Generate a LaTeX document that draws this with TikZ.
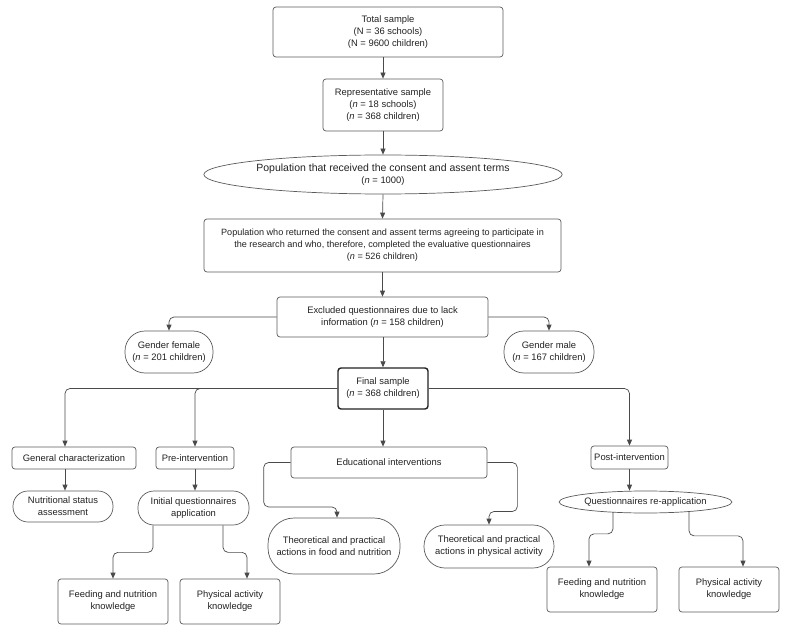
\documentclass[tikz,border=0pt]{standalone}
\usepackage{fontspec}
\setmainfont{Liberation Sans}
\usetikzlibrary{arrows.meta,shapes.geometric}
\definecolor{boxgray}{HTML}{5A5A5A}
\definecolor{linegray}{HTML}{4A4A4A}
\definecolor{textgray}{HTML}{222222}
\newcommand{\nn}{\textit{n}}

\begin{document}
\begin{tikzpicture}[x=1pt,y=-1pt,
    box/.style={draw=boxgray,line width=0.7pt,rounded corners=3pt,inner sep=0pt,align=center,
        text=textgray,font=\fontsize{9.4}{12}\selectfont},
    pill/.style={box,rounded corners=#1},
    oval/.style={box,ellipse},
    link/.style={draw=linegray,line width=0.7pt,rounded corners=5pt,-{Triangle[length=6pt,width=5pt]}}]
            \useasboundingbox (0,0) rectangle (787,631);

            \begin{scope}
                \node[box,minimum width=230pt,minimum height=50pt] (total) at (388,32) {Total sample\\(N = 36 schools)\\(N = 9600 children)};
                \node[box,minimum width=120pt,minimum height=52pt] (rep) at (383,105) {Representative sample\\(\nn{} = 18 schools)\\(\nn{} = 368 children)};
                \node[oval,minimum width=298pt,minimum height=39pt] (pop1) at (383,174.5) {{\fontsize{10.5}{12}\selectfont Population that received the consent and assent terms}\\(\nn{} = 1000)};
                \node[box,font=\fontsize{9.1}{12}\selectfont,minimum width=357pt,minimum height=53pt] (pop2) at (382.5,245.5) {Population who returned the consent and assent terms agreeing to participate in\\the research and who, therefore, completed the evaluative questionnaires\\(\nn{} = 526 children)};
                \node[box,minimum width=211pt,minimum height=40pt] (excl) at (382.5,317) {Excluded questionnaires due to lack\\information (\nn{} = 158 children)};
                \node[pill=20pt,minimum width=88pt,minimum height=42pt] (female) at (169,352) {Gender female\\(\nn{} = 201 children)};
                \node[pill=20pt,minimum width=90pt,minimum height=42pt] (male) at (549,352) {Gender male\\(\nn{} = 167 children)};
                \node[box,line width=1.4pt,draw=textgray,minimum width=90pt,minimum height=41pt] (final) at (383,388.5) {Final sample\\(\nn{} = 368 children)};

                \node[box,minimum width=124pt,minimum height=22pt] (gen) at (74,458) {General characterization};
                \node[box,minimum width=78pt,minimum height=22pt] (pre) at (195,458) {Pre-intervention};
                \node[box,minimum width=196pt,minimum height=31pt] (edu) at (389,462.5) {Educational interventions};
                \node[box,minimum width=77pt,minimum height=23pt] (post) at (629.5,457.5) {Post-intervention};

                \node[pill=15pt,minimum width=100pt,minimum height=31pt] (nutr) at (63,506.5) {Nutritional status\\assessment};
                \node[pill=16pt,minimum width=111pt,minimum height=34pt] (init) at (193.5,508) {Initial questionnaires\\application};
                \node[pill=26pt,minimum width=132pt,minimum height=56pt] (food) at (334,546) {Theoretical and practical\\actions in food and nutrition};
                \node[pill=21pt,minimum width=130pt,minimum height=43pt] (phys) at (489,546.5) {Theoretical and practical\\actions in physical activity};
                \node[oval,minimum width=155pt,minimum height=22pt] (reapp) at (645.5,502) {Questionnaires re-application};

                \node[box,minimum width=110pt,minimum height=45pt] (feedL) at (113,601.5) {Feeding and nutrition\\knowledge};
                \node[box,minimum width=100pt,minimum height=45pt] (actL) at (230,601.5) {Physical activity\\knowledge};
                \node[box,minimum width=110pt,minimum height=45pt] (feedR) at (602,589.5) {Feeding and nutrition\\knowledge};
                \node[box,minimum width=100pt,minimum height=45pt] (actR) at (729,589.5) {Physical activity\\knowledge};
            \end{scope}

            \begin{scope}
                \path [link] (total.south -| rep.north) -- (rep.north);
                \path [link] (rep.south) -- (pop1.north);
                \path [link] (pop1.south) -- (pop2.north);
                \path [link] (pop2.south -| excl.north) -- (excl.north);
                \path [link] (excl.west) -| (female.north);
                \path [link] (excl.east) -| (male.north);
                \path [link] (excl.south -| final.north) -- (final.north);

                \path [link] (final.west) -| ([xshift=-9pt]gen.north);
                \path [link] (final.west) -| (pre.north);
                \path [link] (final.south) -- (final.south |- edu.north);
                \path [link] (final.east) -| (post.north);

                \path [link] ([xshift=-9pt]gen.south) -- ([xshift=-9pt]gen.south |- nutr.north);
                \path [link] (pre.south) -- (pre.south |- init.north);
                \path [link] (edu.west) -- ++(-27,0) -- ++(0,44.5) -| ([xshift=3pt]food.north);
                \path [link] (edu.east) -- ++(30,0) -- ++(0,49) -| (phys.north);
                \path [link] (post.south) -- (post.south |- reapp.north);

                \path [link] ([xshift=-40.5pt]init.south) -- ++(0,27) -| (feedL.north);
                \path [link] ([xshift=29.5pt]init.south) -- ++(0,27) -| ([xshift=17pt]actL.north);
                \path [link] ([xshift=-32.5pt,yshift=1.5pt]reapp.south) -- ++(0,22) -| ([xshift=-13pt]feedR.north);
                \path [link] ([xshift=43.5pt,yshift=1.5pt]reapp.south) -- ++(0,24) -| ([xshift=14pt]actR.north);
            \end{scope}
\end{tikzpicture}
\end{document}
